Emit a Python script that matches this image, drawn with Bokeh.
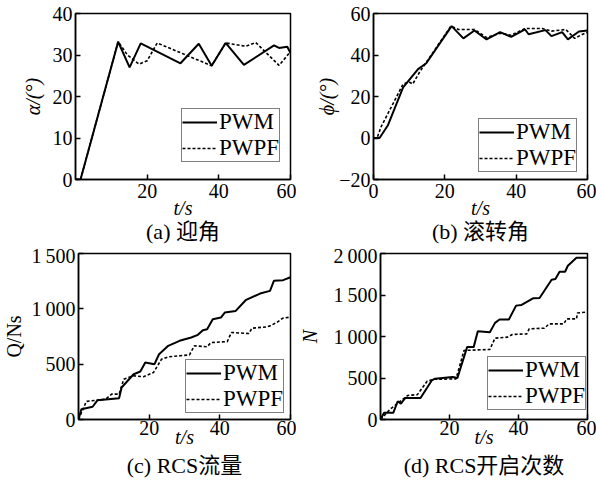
from bokeh.plotting import figure
from bokeh.models import Range1d, FixedTicker, Legend, LegendItem, Title
from bokeh.layouts import row, column
from bokeh.embed import file_html
from bokeh.resources import INLINE

# ---------------- data ----------------
# (a) angle of attack
t_a_pwm = [0, 1.4, 11.9, 15.1, 18.2, 29.3, 34.4, 38.0, 41.9, 47.0, 55.4, 56.8, 59.1, 60]
a_pwm = [0, 0, 33.2, 27.0, 32.8, 28.0, 32.7, 27.4, 32.9, 27.6, 32.3, 31.7, 32.0, 30.5]
t_a_pwpf = [0, 1.4, 11.9, 14.5, 17.7, 20.0, 22.8, 38.0, 41.9, 47.5, 50.3, 56.8, 60]
a_pwpf = [0, 0, 33.2, 30.0, 27.8, 28.6, 32.9, 27.4, 32.9, 32.1, 33.0, 27.5, 30.8]

# (b) roll angle
t_b_pwm = [0, 1.7, 4.0, 8.3, 12.5, 14.8, 21.9, 25.2, 28.3, 31.7, 35.5, 38.6, 42.5,
           43.5, 48.2, 49.9, 52.9, 54.5, 57.6, 60]
b_pwm = [0, 0, 6, 24.4, 33.2, 36, 53.9, 48, 51.8, 47.5, 51, 48.7, 52.3,
         50, 52, 49.1, 51, 47.5, 51.3, 51.8]
t_b_pwpf = [0, 1.0, 2.1, 8.3, 10.0, 11.0, 13.0, 14.8, 21.7, 23.8, 28.3, 31.7, 35.5,
            38.6, 42.5, 47.3, 49.9, 53.9, 56.4, 58.5, 60]
b_pwpf = [0, 0, 5.3, 26, 27, 26, 32, 36.5, 53.9, 52.3, 52.3, 48.4, 50.5,
          49.5, 52.8, 52.8, 51.5, 52.3, 48, 49.9, 51]

# (c) RCS flow
t_c_pwm = [0, 0.8, 4.0, 5.4, 11.5, 12.2, 15.6, 17.5, 18.9, 21.5, 22.8, 25.4, 28.6,
           31.9, 33.8, 35.2, 36.4, 38.0, 40.3, 41.4, 44.5, 47.3, 51.4, 54.2, 55.3, 57.9, 60]
q_pwm = [0, 93, 115, 175, 193, 289, 409, 434, 515, 500, 590, 666, 711,
         741, 765, 807, 816, 906, 921, 966, 981, 1078, 1138, 1162, 1253, 1259, 1285]
t_c_pwpf = [0, 2.2, 7.7, 9.4, 11.5, 12.8, 15.6, 18.4, 21.2, 23.5, 25.4, 31.4, 32.8,
            36.4, 37.5, 42.1, 43.3, 48.2, 49.1, 53.3, 54.2, 56.1, 57.8, 60]
q_pwpf = [0, 163, 184, 229, 229, 364, 395, 386, 424, 545, 566, 584, 666,
          657, 695, 704, 786, 777, 825, 837, 846, 876, 915, 925]

# (d) RCS on-count
t_d_pwm = [0, 1.0, 3.7, 5.0, 5.9, 7.2, 11.6, 14.9, 15.8, 20.9, 22.3, 25.1, 27.0, 28.2,
           31.7, 33.2, 34.5, 37.2, 39.3, 40.9, 44.2, 46.1, 49.6, 50.7, 51.9, 53.5, 54.3, 56.8, 60]
n_pwm = [0, 80, 80, 220, 190, 260, 260, 472, 492, 512, 500, 872, 872, 1064,
         1052, 1164, 1204, 1204, 1372, 1380, 1460, 1464, 1684, 1692, 1780, 1780, 1852, 1950, 1950]
t_d_pwpf = [0, 2.8, 6.1, 7.9, 10.7, 13.5, 15.4, 21.9, 24.2, 31.7, 33.2, 36.8, 38.2,
            42.4, 43.1, 47.5, 48.9, 53.1, 54.0, 56.8, 57.1, 60]
n_pwpf = [0, 124, 232, 290, 300, 460, 484, 490, 832, 844, 980, 992, 1024,
          1032, 1092, 1100, 1152, 1152, 1212, 1212, 1284, 1295]

series_names = ["PWM", "PWPF"]
x_ticks_a = [20, 40, 60]
x_ticks_b = [0, 20, 40, 60]
x_tick_labels_a = ["20", "40", "60"]
x_tick_labels_b = ["0", "20", "40", "60"]
y_ticks_a = [0, 10, 20, 30, 40]
y_ticks_b = [-20, 0, 20, 40, 60]
y_tick_labels_b = ["\u221220", "0", "20", "40", "60"]
y_ticks_c = [0, 500, 1000, 1500]
y_tick_labels_c = ["0", "500", "1\u2009000", "1\u2009500"]
y_ticks_d = [0, 500, 1000, 1500, 2000]
y_tick_labels_d = ["0", "500", "1\u2009000", "1\u2009500", "2\u2009000"]
x_label = "t/s"
y_labels = ["α/(°)", "ϕ/(°)", "Q/Ns", "N"]
captions = ["(a) 迎角", "(b) 滚转角", "(c) RCS流量", "(d) RCS开启次数"]

SERIF = "Liberation Serif"
CAPF = "Liberation Serif, Noto Sans CJK SC"


def make_panel(w, h, bl, br, bt, bb, yr, yticks, ylabels, xticks, xlabels, xstand,
               t1, v1, t2, v2, legloc, ylab, ylab_italic, ylab_stand, xlab_stand,
               caption, cap_offset, cap_stand):
    p = figure(width=w, height=h, x_range=Range1d(0, 60), y_range=Range1d(*yr),
               output_backend="svg", toolbar_location=None,
               min_border_left=bl, min_border_right=br,
               min_border_top=bt, min_border_bottom=bb)
    p.grid.visible = False
    p.background_fill_color = "white"
    p.border_fill_color = "white"
    p.outline_line_color = "black"
    p.outline_line_width = 1.5
    p.outline_line_alpha = 1.0
    for ax in (p.xaxis[0], p.yaxis[0]):
        ax.axis_line_color = "black"
        ax.axis_line_width = 1.5
        ax.major_tick_in = 5
        ax.major_tick_out = 0
        ax.major_tick_line_color = "black"
        ax.major_tick_line_width = 1.5
        ax.minor_tick_line_color = None
        ax.major_label_text_font = SERIF
        ax.major_label_text_font_size = "20px"
        ax.major_label_text_color = "black"
        ax.axis_label_text_font = SERIF
        ax.axis_label_text_font_size = "20px"
        ax.axis_label_text_color = "black"
    xa, ya = p.xaxis[0], p.yaxis[0]
    xa.ticker = FixedTicker(ticks=xticks)
    xa.major_label_overrides = {k: s for k, s in zip(xticks, xlabels)}
    xa.major_label_standoff = xstand
    xa.axis_label = x_label
    xa.axis_label_text_font_style = "italic"
    xa.axis_label_standoff = xlab_stand
    ya.ticker = FixedTicker(ticks=yticks)
    ya.major_label_overrides = {k: s for k, s in zip(yticks, ylabels)}
    ya.major_label_standoff = 3
    ya.axis_label = ylab
    ya.axis_label_text_font_style = "italic" if ylab_italic else "normal"
    ya.axis_label_standoff = ylab_stand

    r1 = p.line(t1, v1, line_color="black", line_width=2.0)
    r2 = p.line(t2, v2, line_color="black", line_width=1.6, line_dash="3 2")
    leg = Legend(items=[LegendItem(label=series_names[0], renderers=[r1]),
                        LegendItem(label=series_names[1], renderers=[r2])],
                 location=legloc)
    leg.label_text_font = SERIF
    leg.label_text_font_size = "23px"
    leg.label_text_color = "black"
    leg.border_line_color = "black"
    leg.border_line_width = 1.5
    leg.background_fill_color = "white"
    leg.background_fill_alpha = 1.0
    leg.padding = 0
    leg.spacing = 0
    leg.margin = 0
    leg.glyph_width = 35
    leg.glyph_height = 26
    leg.label_height = 26
    leg.label_standoff = 2
    p.add_layout(leg)

    cap = Title(text=caption, align="center", offset=cap_offset, standoff=cap_stand,
                text_font=CAPF, text_font_size="22px", text_font_style="normal",
                text_color="black")
    p.add_layout(cap, "below")
    return p


# top row: 244 px tall (frame 13..179); bottom row: 238 px tall (frame 253..419)
pa = make_panel(296, 244, 75, 6, 13, 65, (0, 40), y_ticks_a, [str(v) for v in y_ticks_a],
                x_ticks_a, x_tick_labels_a, 4, t_a_pwm, a_pwm, t_a_pwpf, a_pwpf, (106, 17),
                y_labels[0], True, 6, -4, captions[0], -6, -10)
pb = make_panel(300, 244, 77, 9, 13, 65, (-20, 60), y_ticks_b, y_tick_labels_b,
                x_ticks_b, x_tick_labels_b, 4, t_b_pwm, b_pwm, t_b_pwpf, b_pwpf, (105, 7),
                y_labels[1], True, -2, -4, captions[1], -4, -10)
pc = make_panel(296, 238, 75, 6, 9, 63, (0, 1500), y_ticks_c, y_tick_labels_c,
                x_ticks_a, x_tick_labels_a, 1, t_c_pwm, q_pwm, t_c_pwpf, q_pwpf, (107, 6),
                y_labels[2], False, 3, -12, captions[2], -7, 0)
pd = make_panel(300, 238, 76, 9, 9, 63, (0, 2000), y_ticks_d, y_tick_labels_d,
                x_ticks_a, x_tick_labels_a, 1, t_d_pwm, n_pwm, t_d_pwpf, n_pwpf, (107, 9),
                y_labels[3], True, 9, -12, captions[3], -2, 0)

layout = column(row(pa, pb), row(pc, pd))
open("out.html", "w").write(file_html(layout, INLINE))
